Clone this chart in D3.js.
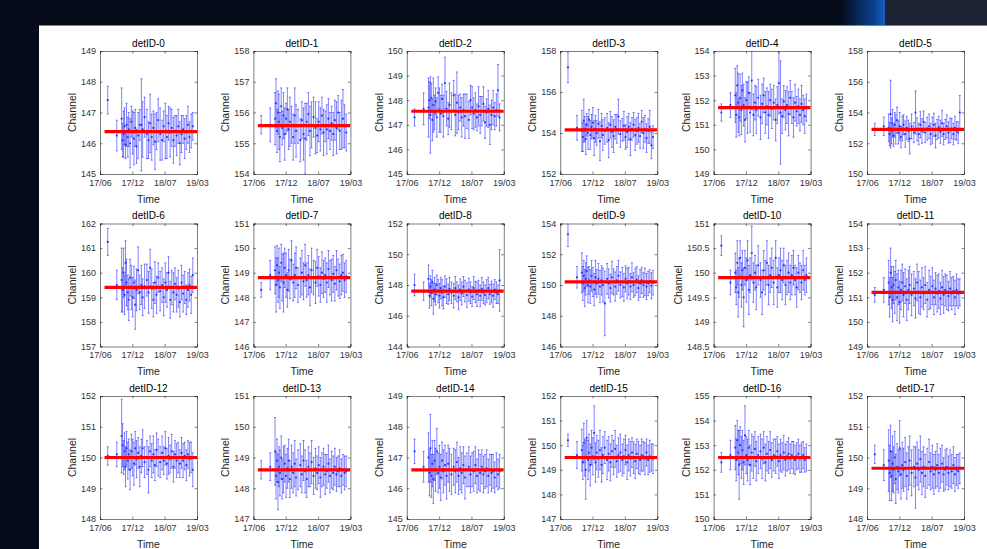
<!DOCTYPE html>
<html>
<head>
<meta charset="utf-8">
<script src="https://cdn.jsdelivr.net/npm/d3@7"></script>
<style>
  html, body { margin: 0; padding: 0; background: #050b18; overflow: hidden; }
  svg { display: block; font-family: "Liberation Sans", Arial, sans-serif; }
</style>
</head>
<body>
<div id="canvas"></div>
<script>
// ---- data ----
let timeTickLabels = ["17/06", "17/12", "18/07", "19/03"];

// measurement times, in units of tick intervals (0 = 17/06, 3 = 19/03)
let timePos = [0.24, 0.52,
    0.67, 0.70, 0.73, 0.76, 0.79, 0.82, 0.86, 0.89, 0.93, 0.97,
    1.01, 1.05, 1.09, 1.13, 1.18, 1.23, 1.28, 1.32, 1.38, 1.45,
    1.50, 1.55, 1.60, 1.65, 1.70, 1.75, 1.80, 1.86, 1.92, 1.97,
    2.02, 2.07, 2.12, 2.17, 2.22, 2.27, 2.32, 2.37, 2.42, 2.47,
    2.52, 2.57, 2.62, 2.67, 2.72, 2.77, 2.82, 2.87];

let yDomains = [[145, 149], [154, 158], [145, 150], [152, 158], [149, 154], [150, 158],
    [157, 162], [146, 151], [144, 152], [146, 154], [148.5, 151], [149, 154],
    [148, 152], [147, 151], [145, 149], [147, 152], [150, 155], [148, 152]];
let yTickSteps = [1, 1, 1, 2, 1, 2, 1, 1, 2, 2, 0.5, 1, 1, 1, 1, 1, 1, 1];

// red fitted level per detector
let meanLevels = [146.38, 155.57, 147.55, 154.15, 151.7, 152.9, 159.4, 148.8, 147.6,
    150.2, 149.9, 151.2, 150.0, 148.6, 146.6, 149.5, 152.5, 149.65];

let det0 = [147.40, 146.25, 146.80, 146.10, 146.30, 146.55, 145.95, 146.60, 146.20, 146.45, 146.00, 146.70, 146.35, 146.15, 146.50, 145.90, 146.25, 146.60, 146.60, 146.45, 146.85, 146.30, 146.10, 146.65, 146.20, 146.50, 146.05, 146.40, 146.75, 146.30, 146.10, 146.55, 146.40, 146.20, 146.65, 146.35, 146.50, 146.10, 146.40, 146.25, 146.55, 146.00, 146.30, 146.45, 146.15, 146.35, 146.60, 146.20, 146.40, 146.55];
let err0 = [0.45, 0.50, 1.00, 0.55, 0.75, 0.60, 0.45, 0.70, 0.65, 0.55, 0.80, 0.50, 0.70, 0.85, 0.60, 0.55, 0.75, 0.50, 1.50, 0.90, 0.65, 0.80, 0.60, 0.95, 0.75, 0.55, 0.90, 0.60, 0.70, 0.85, 0.65, 0.50, 0.90, 0.70, 0.55, 0.80, 0.60, 0.75, 0.50, 0.65, 0.55, 0.70, 0.60, 0.45, 0.65, 0.55, 0.60, 0.50, 0.55, 0.45];

let det1 = [155.60, 155.60, 155.80, 156.30, 155.40, 156.00, 155.70, 155.20, 156.20, 155.50, 155.90, 155.30, 155.80, 156.10, 155.45, 155.70, 155.60, 155.20, 155.90, 155.40, 155.55, 155.10, 155.75, 155.30, 155.15, 155.70, 155.95, 155.40, 155.60, 155.85, 155.50, 155.25, 155.70, 155.45, 155.90, 155.35, 155.55, 155.45, 155.80, 155.40, 155.65, 155.30, 155.75, 155.50, 156.00, 155.40, 155.60, 155.80, 155.55, 155.35];
let err1 = [0.30, 0.55, 0.85, 0.80, 0.70, 0.70, 0.90, 0.80, 0.60, 0.55, 0.75, 0.85, 0.50, 0.70, 0.65, 0.80, 0.60, 0.75, 0.90, 0.85, 0.55, 0.70, 0.60, 0.85, 1.15, 0.60, 0.70, 0.80, 0.75, 0.65, 0.85, 0.55, 0.65, 0.70, 0.60, 0.75, 0.50, 0.80, 0.65, 0.60, 0.55, 0.70, 0.65, 0.85, 0.55, 0.60, 0.80, 0.95, 0.70, 0.60];

let det2 = [147.30, 147.65, 147.70, 148.00, 147.40, 148.10, 147.20, 147.80, 147.50, 147.95, 147.30, 148.30, 147.60, 147.45, 148.05, 147.35, 148.70, 147.65, 147.25, 147.80, 147.55, 148.20, 147.40, 147.90, 147.50, 147.70, 147.30, 147.60, 147.35, 147.55, 147.20, 148.00, 147.70, 147.45, 147.60, 147.30, 147.75, 147.40, 147.55, 147.85, 147.10, 147.50, 147.65, 147.00, 147.40, 147.70, 147.35, 147.60, 148.40, 147.30];
let err2 = [0.35, 0.65, 1.20, 0.75, 1.55, 0.60, 0.85, 1.10, 0.70, 0.55, 0.80, 0.65, 0.90, 0.75, 0.60, 0.85, 1.05, 0.70, 0.65, 0.90, 0.75, 0.60, 0.85, 1.25, 0.70, 0.55, 0.80, 0.65, 0.90, 0.70, 0.75, 0.60, 0.85, 0.65, 0.70, 0.55, 0.80, 0.75, 0.60, 0.70, 0.65, 0.55, 0.75, 0.80, 0.60, 0.70, 0.55, 0.65, 1.05, 0.55];

let det3 = [157.20, 154.25, 154.10, 153.80, 154.60, 154.20, 153.70, 154.40, 154.00, 154.65, 153.90, 154.30, 154.50, 153.75, 154.20, 154.00, 154.45, 153.60, 154.35, 153.90, 154.10, 154.25, 153.65, 154.40, 154.05, 153.85, 154.30, 154.20, 154.80, 153.95, 154.15, 154.35, 153.80, 154.05, 154.30, 153.70, 154.20, 154.40, 153.90, 154.10, 154.25, 153.85, 154.55, 154.00, 154.20, 153.75, 154.10, 154.30, 153.40, 153.80];
let err3 = [0.75, 0.60, 1.00, 0.70, 1.05, 0.60, 0.75, 0.55, 0.80, 0.50, 0.70, 0.60, 0.75, 0.85, 0.65, 0.60, 0.70, 0.95, 0.60, 0.75, 0.65, 0.70, 0.85, 0.65, 0.75, 0.80, 0.60, 0.70, 0.85, 0.65, 0.55, 0.70, 0.60, 0.75, 0.65, 0.80, 0.55, 0.60, 0.75, 0.65, 0.70, 0.60, 0.55, 0.75, 0.65, 0.70, 0.60, 0.80, 0.65, 0.55];

let det4 = [151.50, 151.80, 152.20, 151.40, 152.60, 151.90, 151.30, 152.10, 151.60, 152.40, 151.80, 151.20, 152.00, 151.70, 152.30, 151.50, 152.80, 151.40, 151.90, 151.60, 152.10, 151.30, 151.85, 152.20, 151.50, 151.75, 151.40, 152.00, 151.65, 151.90, 151.20, 151.80, 152.70, 151.50, 151.35, 151.95, 151.60, 151.80, 151.45, 152.10, 151.70, 151.30, 151.90, 151.55, 151.75, 151.40, 151.85, 151.60, 151.35, 151.70];
let err4 = [0.35, 0.50, 1.10, 0.90, 0.80, 1.20, 0.75, 0.95, 1.00, 0.70, 0.85, 0.90, 0.75, 1.05, 0.65, 0.80, 1.20, 0.85, 0.70, 0.95, 0.75, 0.90, 0.80, 0.70, 0.85, 0.75, 0.95, 0.65, 0.80, 0.70, 0.85, 0.75, 1.25, 2.10, 0.70, 0.65, 0.80, 0.75, 0.90, 0.70, 0.65, 0.80, 0.75, 0.60, 0.70, 0.65, 0.75, 0.60, 0.70, 0.55];

let det5 = [152.90, 153.10, 153.00, 152.60, 153.90, 152.80, 153.30, 152.50, 153.20, 152.90, 153.50, 152.70, 153.10, 152.40, 152.95, 153.20, 152.60, 153.00, 152.80, 152.30, 153.10, 152.70, 154.00, 152.90, 152.60, 153.20, 152.80, 153.40, 152.70, 152.95, 153.10, 152.60, 152.85, 153.20, 152.50, 152.90, 153.05, 152.75, 153.30, 152.60, 152.90, 153.10, 152.70, 152.85, 152.95, 152.60, 153.00, 152.80, 152.70, 154.00];
let err5 = [0.40, 0.60, 0.90, 0.75, 2.20, 0.85, 0.90, 0.70, 0.80, 0.95, 0.85, 0.75, 0.90, 0.70, 0.80, 0.65, 0.85, 0.75, 0.70, 1.00, 0.80, 0.65, 1.40, 0.75, 0.70, 0.85, 0.80, 0.70, 0.65, 0.75, 0.80, 0.70, 0.85, 0.75, 0.80, 0.65, 0.70, 0.75, 0.85, 0.70, 0.65, 0.75, 0.70, 0.80, 0.65, 0.70, 0.75, 0.60, 0.70, 1.10];

let det6 = [161.25, 159.50, 159.70, 159.30, 160.00, 159.10, 160.40, 159.60, 159.20, 158.90, 159.80, 159.40, 159.00, 159.60, 158.70, 159.30, 160.10, 159.20, 159.50, 159.00, 159.45, 159.70, 159.20, 160.20, 159.35, 158.90, 159.60, 159.10, 159.80, 159.25, 159.50, 159.00, 159.60, 159.30, 160.00, 158.90, 159.40, 159.20, 159.55, 159.10, 159.35, 158.80, 159.60, 159.15, 159.40, 158.90, 159.30, 159.50, 159.10, 159.90];
let err6 = [0.55, 0.60, 1.30, 0.90, 1.00, 0.80, 0.90, 0.95, 0.70, 0.85, 0.75, 0.90, 0.80, 0.65, 1.00, 0.85, 0.95, 0.70, 0.80, 0.75, 0.90, 0.65, 0.85, 0.75, 0.80, 0.70, 0.85, 0.75, 0.60, 0.80, 0.70, 0.75, 0.80, 0.70, 0.65, 0.75, 0.70, 0.80, 0.65, 0.70, 0.75, 0.60, 0.70, 0.75, 0.65, 0.60, 0.70, 0.65, 0.75, 0.70];

let det7 = [148.30, 148.90, 149.10, 148.50, 149.30, 148.70, 149.00, 148.40, 149.40, 148.80, 148.60, 149.20, 148.90, 148.30, 149.10, 148.75, 149.50, 148.60, 148.90, 149.20, 148.50, 148.80, 149.00, 148.65, 149.30, 148.70, 148.90, 148.40, 149.10, 148.80, 148.60, 149.20, 148.85, 148.50, 149.00, 148.75, 148.90, 148.60, 149.15, 148.80, 148.70, 148.95, 148.55, 149.10, 148.80, 148.65, 148.90, 149.00, 148.70, 148.85];
let err7 = [0.30, 0.60, 0.95, 1.10, 0.80, 0.90, 1.00, 0.85, 0.75, 0.95, 1.20, 0.80, 0.90, 0.70, 0.85, 0.80, 0.80, 0.75, 0.90, 0.85, 0.70, 0.80, 0.90, 0.75, 0.85, 0.70, 0.80, 0.75, 0.90, 0.70, 0.85, 0.75, 0.80, 0.70, 0.85, 0.75, 0.70, 0.80, 0.75, 0.70, 0.85, 0.75, 0.70, 0.80, 0.75, 0.70, 0.80, 0.75, 0.70, 0.65];

let det8 = [148.00, 147.60, 148.40, 147.30, 147.90, 147.50, 148.20, 147.10, 147.70, 147.40, 148.00, 147.60, 147.30, 147.80, 147.50, 147.20, 147.90, 147.60, 147.40, 147.75, 147.50, 147.30, 147.80, 147.55, 147.20, 147.70, 147.45, 147.90, 147.60, 147.35, 147.70, 147.50, 147.25, 147.80, 147.55, 147.40, 147.65, 147.30, 147.75, 147.50, 147.35, 147.60, 147.80, 147.40, 147.55, 147.30, 147.70, 147.50, 147.40, 148.30];
let err8 = [0.70, 0.60, 0.90, 0.80, 0.70, 0.85, 0.75, 1.00, 0.80, 0.70, 0.65, 0.75, 0.80, 0.70, 0.85, 0.75, 0.70, 0.80, 0.65, 0.75, 0.70, 0.80, 0.75, 0.65, 0.80, 0.70, 0.75, 0.65, 0.70, 0.80, 0.75, 0.70, 0.65, 0.75, 0.70, 0.80, 0.65, 0.70, 0.75, 0.70, 0.65, 0.75, 0.70, 0.65, 0.70, 0.75, 0.65, 0.70, 0.60, 2.00];

let det9 = [153.30, 150.50, 150.80, 150.10, 150.60, 149.80, 150.40, 150.90, 150.00, 150.30, 149.90, 150.60, 150.20, 149.70, 150.50, 150.10, 150.40, 149.90, 150.30, 150.00, 148.80, 150.40, 150.10, 149.80, 150.50, 150.20, 149.90, 150.30, 150.60, 150.00, 150.20, 149.85, 150.40, 150.10, 150.25, 149.90, 150.50, 150.00, 150.20, 150.35, 149.80, 150.10, 150.30, 150.00, 150.20, 149.90, 150.10, 150.25, 149.95, 150.15];
let err9 = [0.80, 0.70, 1.30, 1.10, 1.00, 1.20, 1.05, 1.00, 1.15, 0.90, 1.10, 1.00, 0.95, 1.05, 1.10, 0.90, 1.00, 1.05, 0.95, 1.10, 2.10, 1.00, 0.95, 0.90, 1.05, 0.85, 0.95, 0.90, 1.00, 0.85, 0.95, 0.90, 0.85, 1.00, 0.90, 0.85, 0.95, 0.80, 0.90, 0.85, 0.80, 0.90, 0.85, 0.80, 0.90, 0.85, 0.80, 0.75, 0.85, 0.80];

let det10 = [150.55, 149.80, 150.00, 149.70, 150.20, 149.60, 149.90, 150.30, 149.75, 150.05, 149.50, 150.10, 149.85, 150.25, 149.65, 149.95, 150.40, 149.80, 150.00, 149.70, 150.15, 149.85, 149.60, 150.05, 149.90, 150.20, 149.75, 149.95, 150.10, 149.80, 150.30, 149.70, 149.95, 150.05, 149.85, 150.15, 149.75, 149.90, 150.00, 149.80, 149.95, 150.10, 149.85, 149.70, 150.00, 149.90, 149.80, 150.05, 149.85, 149.95];
let err10 = [0.20, 0.25, 0.40, 0.35, 0.45, 0.50, 0.40, 0.35, 0.45, 0.40, 0.60, 0.35, 0.45, 0.40, 0.50, 0.35, 0.55, 0.40, 0.35, 0.45, 0.40, 0.35, 0.45, 0.40, 0.35, 0.45, 0.40, 0.35, 0.40, 0.45, 0.35, 0.40, 0.35, 0.45, 0.40, 0.35, 0.40, 0.35, 0.40, 0.35, 0.40, 0.35, 0.30, 0.40, 0.35, 0.30, 0.35, 0.40, 0.30, 0.35];

let det11 = [151.10, 151.30, 151.60, 151.00, 152.00, 151.40, 150.90, 151.50, 151.20, 151.70, 151.00, 151.40, 150.80, 151.30, 151.60, 151.10, 151.45, 150.90, 151.30, 151.50, 151.10, 151.35, 150.95, 151.60, 151.20, 151.00, 151.40, 151.15, 151.50, 150.90, 151.30, 151.20, 151.45, 151.00, 151.35, 151.15, 151.25, 150.95, 151.40, 151.10, 151.30, 151.20, 151.05, 151.35, 151.15, 151.25, 151.00, 151.30, 151.15, 151.20];
let err11 = [0.30, 0.50, 0.90, 0.80, 1.00, 0.85, 0.90, 0.75, 0.85, 0.80, 0.95, 0.70, 0.85, 0.80, 0.75, 0.90, 0.70, 0.85, 0.80, 0.75, 0.85, 0.70, 0.80, 0.75, 0.85, 0.70, 0.80, 0.65, 0.75, 0.70, 0.80, 0.65, 0.75, 0.70, 0.65, 0.75, 0.70, 0.65, 0.70, 0.75, 0.65, 0.70, 0.60, 0.70, 0.65, 0.60, 0.70, 0.65, 0.60, 0.55];

let det12 = [150.05, 150.10, 150.70, 150.40, 150.00, 150.20, 149.70, 150.30, 149.90, 150.10, 149.60, 150.20, 150.00, 149.80, 150.30, 149.95, 150.15, 149.70, 150.05, 150.30, 149.85, 150.00, 149.60, 150.20, 149.90, 150.10, 149.75, 150.25, 150.00, 149.85, 150.15, 149.90, 150.30, 149.80, 150.05, 149.95, 150.20, 149.70, 150.10, 149.90, 150.00, 149.80, 150.15, 149.90, 150.05, 149.75, 150.10, 149.95, 150.00, 149.60];
let err12 = [0.30, 0.40, 1.20, 0.70, 0.55, 0.60, 0.65, 0.55, 0.60, 0.50, 0.65, 0.55, 0.60, 0.70, 0.55, 0.60, 0.50, 0.65, 0.55, 0.60, 0.50, 0.55, 0.75, 0.50, 0.55, 0.60, 0.50, 0.55, 0.60, 0.50, 0.55, 0.45, 0.55, 0.50, 0.60, 0.45, 0.55, 0.50, 0.45, 0.55, 0.50, 0.45, 0.50, 0.55, 0.45, 0.50, 0.45, 0.55, 0.50, 0.55];

let det13 = [148.60, 148.70, 149.20, 148.40, 148.90, 148.20, 148.70, 148.50, 149.00, 148.30, 148.60, 148.80, 148.40, 148.65, 148.90, 148.30, 148.70, 148.50, 148.80, 148.35, 148.60, 148.75, 148.45, 148.90, 148.55, 148.30, 148.70, 148.60, 148.85, 148.40, 148.65, 148.50, 148.75, 148.35, 148.60, 148.70, 148.45, 148.55, 148.80, 148.40, 148.60, 148.50, 148.70, 148.45, 148.55, 148.65, 148.40, 148.60, 148.50, 148.55];
let err13 = [0.30, 0.45, 1.10, 0.75, 0.70, 0.90, 0.65, 0.75, 0.70, 0.65, 0.75, 0.60, 0.70, 0.65, 0.70, 0.60, 0.70, 0.65, 0.75, 0.60, 0.65, 0.70, 0.60, 0.65, 0.70, 0.60, 0.65, 0.55, 0.70, 0.60, 0.65, 0.55, 0.60, 0.65, 0.55, 0.60, 0.65, 0.55, 0.60, 0.55, 0.60, 0.55, 0.60, 0.55, 0.50, 0.60, 0.55, 0.50, 0.55, 0.50];

let det14 = [147.20, 146.70, 147.00, 146.50, 147.30, 146.40, 146.80, 146.30, 146.90, 146.60, 147.20, 146.50, 146.70, 146.35, 146.90, 146.55, 146.75, 146.40, 146.80, 146.60, 146.45, 146.70, 146.55, 146.85, 146.40, 146.65, 146.50, 146.75, 146.35, 146.60, 146.70, 146.45, 146.60, 146.55, 146.75, 146.40, 146.60, 146.50, 146.70, 146.45, 146.55, 146.65, 146.40, 146.60, 146.50, 146.55, 146.35, 146.60, 146.45, 146.55];
let err14 = [0.40, 0.50, 0.80, 0.75, 1.10, 0.70, 0.75, 0.80, 0.65, 0.70, 0.75, 0.65, 0.70, 0.75, 0.60, 0.70, 0.65, 0.75, 0.60, 0.70, 0.65, 0.60, 0.70, 0.65, 0.60, 0.70, 0.65, 0.60, 0.70, 0.55, 0.65, 0.60, 0.55, 0.65, 0.60, 0.55, 0.65, 0.60, 0.55, 0.60, 0.55, 0.60, 0.55, 0.50, 0.60, 0.55, 0.50, 0.55, 0.50, 0.55];

let det15 = [150.20, 149.60, 149.80, 149.30, 150.10, 149.50, 149.00, 150.30, 149.40, 149.70, 149.20, 149.90, 149.55, 150.50, 149.30, 149.70, 149.45, 149.80, 149.20, 149.60, 149.90, 149.40, 149.65, 149.30, 149.75, 149.50, 149.85, 149.35, 149.60, 149.70, 149.40, 149.55, 149.80, 149.30, 149.60, 149.45, 149.70, 149.50, 149.35, 149.65, 149.50, 149.40, 149.60, 149.55, 149.45, 149.70, 149.40, 149.55, 149.50, 149.45];
let err15 = [0.25, 0.55, 0.85, 0.70, 0.80, 0.75, 1.20, 0.70, 0.80, 0.75, 0.85, 0.70, 0.75, 1.10, 0.80, 0.70, 0.75, 0.80, 0.70, 0.75, 0.65, 0.80, 0.70, 0.75, 0.65, 0.70, 0.75, 0.65, 0.70, 0.75, 0.65, 0.70, 0.60, 0.70, 0.65, 0.70, 0.60, 0.65, 0.70, 0.60, 0.65, 0.60, 0.65, 0.60, 0.65, 0.55, 0.60, 0.65, 0.55, 0.60];

let det16 = [152.30, 152.60, 152.90, 152.40, 153.20, 152.70, 152.20, 153.00, 152.50, 152.80, 152.30, 153.40, 152.60, 152.40, 152.90, 152.20, 152.70, 152.50, 152.85, 152.35, 152.60, 152.75, 152.45, 152.90, 152.30, 152.65, 152.50, 152.80, 152.40, 152.60, 152.55, 152.75, 152.35, 152.60, 152.50, 152.70, 152.40, 152.55, 152.65, 152.45, 152.60, 152.50, 152.40, 152.55, 152.65, 152.45, 152.50, 152.60, 152.40, 152.50];
let err16 = [0.40, 0.60, 0.90, 0.85, 0.80, 0.90, 1.40, 0.75, 0.85, 0.80, 0.90, 1.20, 0.75, 0.85, 0.70, 0.80, 0.75, 0.85, 0.70, 0.80, 0.75, 0.70, 0.80, 0.65, 0.75, 0.70, 0.65, 0.75, 0.70, 0.65, 0.70, 0.60, 0.70, 0.65, 0.60, 0.70, 0.65, 0.60, 0.65, 0.60, 0.55, 0.65, 0.60, 0.55, 0.60, 0.55, 0.60, 0.55, 0.50, 0.55];

let det17 = [150.10, 149.75, 149.90, 149.50, 150.20, 149.40, 149.80, 149.60, 150.00, 149.30, 149.70, 149.55, 150.30, 149.45, 149.75, 149.60, 149.85, 149.40, 149.65, 149.90, 149.50, 149.70, 149.35, 149.80, 149.60, 149.95, 149.50, 149.70, 149.40, 149.65, 149.85, 149.55, 149.70, 149.45, 149.60, 149.75, 149.50, 149.65, 149.80, 149.45, 149.60, 149.70, 149.50, 149.65, 149.55, 149.75, 149.45, 149.60, 149.55, 149.65];
let err17 = [0.30, 0.50, 1.00, 0.90, 0.85, 0.80, 0.90, 0.75, 0.85, 0.80, 0.75, 0.70, 0.90, 0.80, 0.75, 0.70, 0.80, 0.75, 0.70, 0.80, 0.75, 0.65, 1.00, 0.70, 0.65, 0.75, 0.70, 0.65, 0.70, 0.65, 0.75, 0.60, 0.70, 0.65, 0.60, 0.70, 0.60, 0.65, 0.60, 0.55, 0.65, 0.60, 0.55, 0.60, 0.55, 0.60, 0.55, 0.50, 0.55, 0.50];

let channelVals = [det0, det1, det2, det3, det4, det5, det6, det7, det8, det9, det10, det11, det12, det13, det14, det15, det16, det17];
let channelErrs = [err0, err1, err2, err3, err4, err5, err6, err7, err8, err9, err10, err11, err12, err13, err14, err15, err16, err17];

// ---- layout ----
let width = 987;
let height = 549;
let plotW = 97;
let plotH = 123;
let colLeft = c => 100 + c * 153.4;
let rowTop = r => 51 + r * 172.5;

let svg = d3.select("#canvas")
    .append("svg")
    .attr("width", width)
    .attr("height", height);

// dark slide background + white figure area
let defs = svg.append("defs");
let glow = defs.append("linearGradient").attr("id", "glow").attr("x1", 0).attr("x2", 1);
glow.append("stop").attr("offset", 0).attr("stop-color", "#050b18");
glow.append("stop").attr("offset", 0.75).attr("stop-color", "#0a3f8f");
glow.append("stop").attr("offset", 1).attr("stop-color", "#1a5fc0");

svg.append("rect").attr("width", width).attr("height", height).attr("fill", "#050b18");
svg.append("rect").attr("x", 840).attr("y", 0).attr("width", 45).attr("height", 26).attr("fill", "url(#glow)");
svg.append("rect").attr("x", 885).attr("y", 0).attr("width", 102).attr("height", 26).attr("fill", "#1c2332");
svg.append("rect").attr("x", 39).attr("y", 25).attr("width", width - 39).attr("height", 1).attr("fill", "#7d828c");
svg.append("rect").attr("x", 39).attr("y", 26).attr("width", width - 39).attr("height", height - 26).attr("fill", "#ffffff");

const drawPanel = (i) => {
    let col = i % 6;
    let row = Math.floor(i / 6);
    let g = svg.append("g")
        .attr("transform", `translate(${colLeft(col)},${rowTop(row)})`);

    let x = d3.scaleLinear().domain([0, 3]).range([0, plotW]);
    let y = d3.scaleLinear().domain(yDomains[i]).range([plotH, 0]);
    let step = yTickSteps[i];
    let yTicks = d3.range(yDomains[i][0], yDomains[i][1] + step / 2, step);

    let pts = channelVals[i].map((v, k) => ({ t: timePos[k], v: v, e: channelErrs[i][k] }));

    let clip = "clip" + i;
    g.append("clipPath").attr("id", clip)
        .append("rect").attr("width", plotW).attr("height", plotH);

    let plot = g.append("g").attr("clip-path", `url(#${clip})`);

    // error bars
    let bars = plot.append("g")
        .attr("stroke", "#0000ff")
        .attr("stroke-opacity", 0.55)
        .attr("stroke-width", 0.9);
    bars.selectAll("line.bar")
        .data(pts)
        .join("line")
        .attr("class", "bar")
        .attr("x1", d => x(d.t)).attr("x2", d => x(d.t))
        .attr("y1", d => y(d.v - d.e)).attr("y2", d => y(d.v + d.e));
    bars.selectAll("path.cap")
        .data(pts)
        .join("path")
        .attr("class", "cap")
        .attr("d", d => `M${x(d.t) - 1},${y(d.v + d.e)}h2M${x(d.t) - 1},${y(d.v - d.e)}h2`);

    plot.append("g").selectAll("circle")
        .data(pts)
        .join("circle")
        .attr("cx", d => x(d.t))
        .attr("cy", d => y(d.v))
        .attr("r", 1.1)
        .attr("fill", "#1030ff")
        .attr("fill-opacity", 0.9);

    // fitted level
    plot.append("line")
        .attr("x1", x(0.14)).attr("x2", x(3))
        .attr("y1", y(meanLevels[i])).attr("y2", y(meanLevels[i]))
        .attr("stroke", "#ff0000")
        .attr("stroke-width", 3.2);

    // axes (box on, ticks inside)
    let axisColor = "#262626";
    let xb = g.append("g").attr("transform", `translate(0,${plotH})`)
        .call(d3.axisBottom(x).tickValues([0, 1, 2, 3]).tickFormat((d, k) => timeTickLabels[k]).tickSize(-2.5).tickPadding(5.5));
    let xt = g.append("g")
        .call(d3.axisTop(x).tickValues([0, 1, 2, 3]).tickFormat("").tickSize(-2.5));
    let yl = g.append("g")
        .call(d3.axisLeft(y).tickValues(yTicks).tickFormat(d3.format("~g")).tickSize(-2.5).tickPadding(4));
    let yr = g.append("g").attr("transform", `translate(${plotW},0)`)
        .call(d3.axisRight(y).tickValues(yTicks).tickFormat("").tickSize(-2.5));

    [xb, xt, yl, yr].forEach(a => {
        a.select(".domain").attr("stroke", axisColor).attr("stroke-width", 0.6);
        a.selectAll(".tick line").attr("stroke", axisColor).attr("stroke-width", 0.6);
        a.selectAll(".tick text")
            .attr("fill", "#333")
            .style("font-size", "9px")
            .style("font-family", "'Liberation Sans', Arial, sans-serif");
    });

    g.append("text")
        .attr("x", plotW / 2).attr("y", -4.5)
        .attr("text-anchor", "middle")
        .style("font-size", "10px")
        .attr("fill", "#000")
        .text(`detID-${i}`);

    g.append("text")
        .attr("x", plotW / 2).attr("y", plotH + 28.5)
        .attr("text-anchor", "middle")
        .style("font-size", "10.5px")
        .attr("fill", "#262626")
        .text("Time");

    // ylabel sits just left of the widest tick label, like MATLAB
    let labelX = yl.node().getBBox().x - 5;
    g.append("text")
        .attr("transform", `translate(${labelX},${plotH / 2}) rotate(-90)`)
        .attr("text-anchor", "middle")
        .style("font-size", "10.5px")
        .attr("fill", "#262626")
        .text("Channel");
}

d3.range(18).forEach(drawPanel);
</script>
</body>
</html>
